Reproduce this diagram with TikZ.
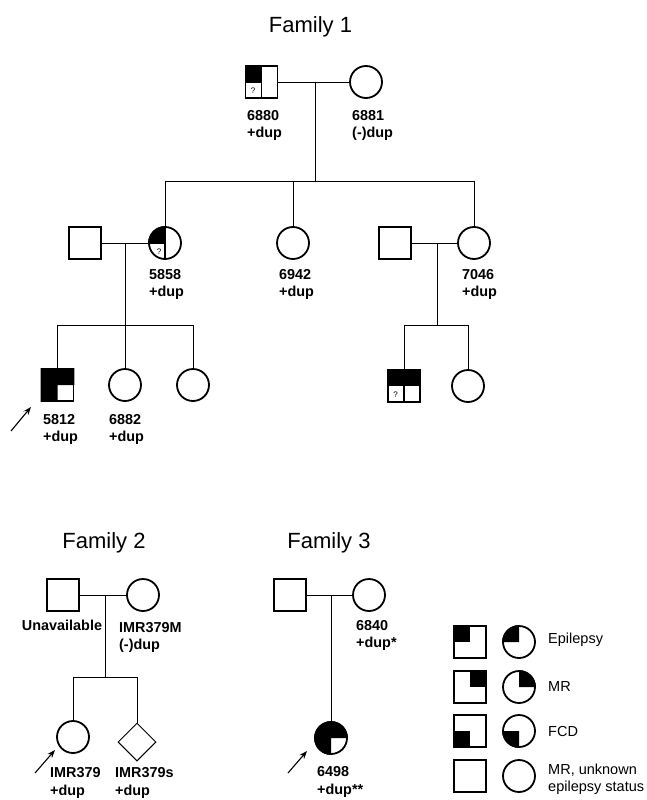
\documentclass[tikz,border=0pt]{standalone}
\usepackage{fontspec}
\setmainfont{Liberation Sans}
\usetikzlibrary{arrows.meta,calc,shapes.geometric}

\tikzset{
  male/.style={draw, line width=1.8pt, minimum size=32pt, inner sep=0pt},
  female/.style={draw, circle, line width=1.8pt, minimum size=32pt, inner sep=0pt},
  link/.style={line width=1pt},
  divide/.style={line width=1.2pt},
  lbl/.style={font=\bfseries\fontsize{14.4}{17.5}\selectfont, align=left, anchor=base west, inner sep=0pt},
  title/.style={font=\fontsize{22}{26}\selectfont, anchor=base, inner sep=0pt},
  key/.style={font=\fontsize{14.5}{16.5}\selectfont, align=left, anchor=west, inner sep=0pt},
  qmark/.style={font=\fontsize{8}{9}\selectfont, inner sep=0pt},
  proband/.style={-{Stealth[length=8pt,width=6pt]}, line width=1.1pt}
}

\begin{document}
\begin{tikzpicture}[x=1pt,y=-1pt]
    \useasboundingbox (0,0) rectangle (647,800);

    % Family 1
    \node[title] (f1title) at (310.5,33) {Family 1};
    \node[male] (p6880) at (261.5,82) {};
    \node[female] (p6881) at (366,82) {};
    \node[male] (f1spouseL) at (85,243) {};
    \node[female] (p5858) at (165,243) {};
    \node[female] (p6942) at (293,243) {};
    \node[male] (f1spouseR) at (395,243) {};
    \node[female] (p7046) at (474,243) {};
    \node[male] (p5812) at (57.5,385) {};
    \node[female] (p6882) at (125,385) {};
    \node[female] (f1girl) at (193,385) {};
    \node[male] (f1boy) at (404,386) {};
    \node[female] (f1girlR) at (468,386) {};
    \coordinate (f1mate) at (315,82);
    \coordinate (f1sib) at (315,181);
    \coordinate (f1mateL) at (125,243);
    \coordinate (f1sibL) at (125,325);
    \coordinate (f1mateR) at (437,243);
    \coordinate (f1sibR) at (437,325);

    \draw[link] (p6880) -- (p6881);
    \draw[link] (f1mate) -- (f1sib);
    \draw[link] (p5858.north) -- (p5858 |- f1sib) -- (p7046 |- f1sib) -- (p7046.north);
    \draw[link] (p6942 |- f1sib) -- (p6942.north);
    \draw[link] (f1spouseL) -- (p5858);
    \draw[link] (f1mateL) -- (p6882.north);
    \draw[link] (p5812.north) -- (p5812 |- f1sibL) -- (f1girl |- f1sibL) -- (f1girl.north);
    \draw[link] (f1spouseR) -- (p7046);
    \draw[link] (f1mateR) -- (f1sibR);
    \draw[link] (f1boy.north) -- (f1boy |- f1sibR) -- (f1girlR |- f1sibR) -- (f1girlR.north);

    % affection (arc radius in pt, so angles run the usual way)
    \fill (p6880.north west) rectangle (p6880.center);
    \draw[divide] (p6880.north) -- (p6880.south);
    \draw[divide] (p6880.west) -- (p6880.center);
    \node[qmark] (q6880) at ($(p6880.center)!0.5!(p6880.south west)$) {?};
    \fill (p5858.center) -- (p5858.west) arc[start angle=180, end angle=90, radius=16.9pt] -- cycle;
    \draw[divide] (p5858.north) -- (p5858.south);
    \draw[divide] (p5858.west) -- (p5858.center);
    \node[qmark] (q5858) at ($(p5858.center)+(-6,9)$) {?};
    \fill (p5812.north west) -- (p5812.north east) -- (p5812.east) -- (p5812.center)
        -- (p5812.south) -- (p5812.south west) -- cycle;
    \fill (f1boy.north west) rectangle (f1boy.east);
    \draw[divide] (f1boy.center) -- (f1boy.south);
    \node[qmark] (qboy) at ($(f1boy.center)!0.5!(f1boy.south west)$) {?};

    \node[lbl] (l6880) at (247,137.5) {6880\\+dup};
    \node[lbl] (l6881) at (352,137.5) {6881\\(-)dup};
    \node[lbl] (l5858) at (149,296.5) {5858\\+dup};
    \node[lbl] (l6942) at (279,296.5) {6942\\+dup};
    \node[lbl] (l7046) at (462,296.5) {7046\\+dup};
    \node[lbl] (l5812) at (43,441.5) {5812\\+dup};
    \node[lbl] (l6882) at (109,441.5) {6882\\+dup};
    \coordinate (a5812) at (11,431);
    \coordinate (a5812h) at (31,407);
    \draw[proband] (a5812) -- (a5812h);

    % Family 2
    \node[title] (f2title) at (104,548) {Family 2};
    \node[male] (f2dad) at (63,595) {};
    \node[female] (p379M) at (143,595) {};
    \node[female] (p379) at (73,737) {};
    \node[diamond, draw, link, minimum size=38pt, inner sep=0pt] (p379s) at (137,742) {};
    \coordinate (f2mate) at (105,595);
    \coordinate (f2sib) at (105,677);
    \draw[link] (f2dad) -- (p379M);
    \draw[link] (f2mate) -- (f2sib);
    \draw[link] (p379.north) -- (p379 |- f2sib) -- (p379s |- f2sib) -- (p379s.north);
    \node[lbl, anchor=base] (lunav) at (62,630) {Unavailable};
    \node[lbl] (l379M) at (119,649.5) {IMR379M\\(-)dup};
    \node[lbl] (l379) at (50,795) {IMR379\\+dup};
    \node[lbl] (l379s) at (115,795) {IMR379s\\+dup};
    \coordinate (a379) at (35,773);
    \coordinate (a379h) at (55,750);
    \draw[proband] (a379) -- (a379h);

    % Family 3
    \node[title] (f3title) at (329,548) {Family 3};
    \node[male] (f3dad) at (290,595) {};
    \node[female] (p6840) at (369,595) {};
    \node[female] (p6498) at (331,738) {};
    \coordinate (f3mate) at (331,595);
    \draw[link] (f3dad) -- (p6840);
    \draw[link] (f3mate) -- (p6498.north);
    \fill (p6498.center) -- (p6498.east) arc[start angle=0, end angle=270, radius=16.9pt] -- cycle;
    \node[lbl] (l6840) at (356,647.5) {6840\\+dup*};
    \node[lbl] (l6498) at (317,794) {6498\\+dup**};
    \coordinate (a6498) at (288,773);
    \coordinate (a6498h) at (307,751);
    \draw[proband] (a6498) -- (a6498h);

    % legend
    \node[male] (kSqEp) at (470,642) {};
    \node[female] (kCiEp) at (519,642) {};
    \node[male] (kSqMR) at (470,687) {};
    \node[female] (kCiMR) at (519,687) {};
    \node[male] (kSqFCD) at (470,731) {};
    \node[female] (kCiFCD) at (519,731) {};
    \node[male] (kSqUn) at (470,776) {};
    \node[female] (kCiUn) at (519,776) {};
    \fill (kSqEp.north west) rectangle (kSqEp.center);
    \fill (kCiEp.center) -- (kCiEp.west) arc[start angle=180, end angle=90, radius=16.9pt] -- cycle;
    \fill (kSqMR.north east) rectangle (kSqMR.center);
    \fill (kCiMR.center) -- (kCiMR.north) arc[start angle=90, end angle=0, radius=16.9pt] -- cycle;
    \fill (kSqFCD.south west) rectangle (kSqFCD.center);
    \fill (kCiFCD.center) -- (kCiFCD.west) arc[start angle=180, end angle=270, radius=16.9pt] -- cycle;
    \node[key] (tEp) at (548,640) {Epilepsy};
    \node[key] (tMR) at (548,687) {MR};
    \node[key] (tFCD) at (548,731) {FCD};
    \node[key] (tUn) at (548,779) {MR, unknown\\epilepsy status};
\end{tikzpicture}
\end{document}
